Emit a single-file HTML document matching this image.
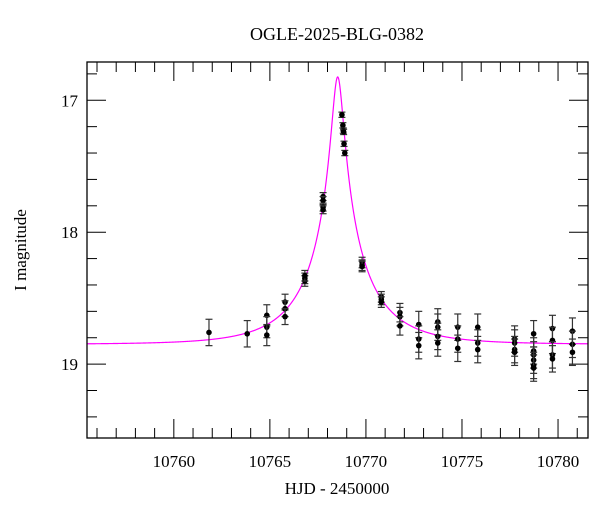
<!DOCTYPE html>
<html><head><meta charset="utf-8"><style>
body{margin:0;background:#fff;}
svg text{font-family:"Liberation Serif",serif;fill:#000;}
</style></head><body>
<svg id="chart" width="600" height="512">
<text x="337" y="40" font-size="18" text-anchor="middle">OGLE-2025-BLG-0382</text>
<text x="337" y="494" font-size="17" text-anchor="middle">HJD - 2450000</text>
<text transform="translate(26,250) rotate(-90)" font-size="17" text-anchor="middle">I magnitude</text>
<g id="ticks"></g>
<g id="plot"></g>
<rect x="87" y="62" width="501" height="376" fill="none" stroke="#000" stroke-width="1.3"/>
</svg>
<script>
const times=[10761.83,10763.82,10764.84,10764.84,10764.84,10765.79,10765.79,10765.79,10766.82,10766.82,10766.82,10767.77,10767.77,10767.77,10767.77,10768.75,10768.8,10768.82,10768.84,10768.86,10768.9,10769.8,10769.8,10769.8,10770.8,10770.8,10770.8,10771.77,10771.77,10771.77,10772.75,10772.75,10772.75,10773.74,10773.74,10773.74,10773.74,10774.78,10774.78,10774.78,10775.82,10775.82,10775.82,10777.74,10777.74,10777.74,10777.74,10778.73,10778.73,10778.73,10778.73,10778.73,10778.73,10779.71,10779.71,10779.71,10779.71,10780.75,10780.75,10780.75];
const mags=[18.76,18.77,18.63,18.72,18.78,18.53,18.58,18.64,18.35,18.37,18.33,17.73,17.76,17.81,17.83,17.11,17.19,17.23,17.24,17.33,17.40,18.23,18.25,18.26,18.49,18.51,18.53,18.61,18.64,18.71,18.70,18.81,18.86,18.68,18.72,18.79,18.84,18.72,18.81,18.88,18.72,18.84,18.89,18.81,18.84,18.89,18.91,18.77,18.90,18.93,18.97,19.01,19.03,18.73,18.82,18.93,18.96,18.75,18.85,18.91];
const errs=[0.1,0.1,0.08,0.08,0.08,0.06,0.06,0.06,0.04,0.04,0.04,0.03,0.03,0.03,0.03,0.02,0.02,0.02,0.02,0.02,0.02,0.04,0.04,0.04,0.04,0.04,0.04,0.07,0.07,0.07,0.1,0.1,0.1,0.1,0.1,0.1,0.1,0.1,0.1,0.1,0.1,0.1,0.1,0.1,0.1,0.1,0.1,0.1,0.1,0.1,0.1,0.1,0.1,0.1,0.1,0.1,0.1,0.1,0.1,0.1];
const xTicks=[10760,10765,10770,10775,10780];
const yTicks=[17,18,19];
const model={t0:10768.53,u0:0.084,tE:3.45,fs:0.5,base:18.85};
const X0=87,X1=588,Y0=62,Y1=438;
const xmin=10755.48,xmax=10781.56,ytop=16.71,ybot=19.56;
const sx=t=>X0+(t-xmin)/(xmax-xmin)*(X1-X0);
const sy=m=>Y0+(m-ytop)/(ybot-ytop)*(Y1-Y0);
const NS='http://www.w3.org/2000/svg';
function mk(tag,attrs,parent){const e=document.createElementNS(NS,tag);for(const k in attrs)e.setAttribute(k,attrs[k]);parent.appendChild(e);return e;}
const tk=document.getElementById('ticks'),pl=document.getElementById('plot');
for(let d=Math.ceil(xmin);d<=xmax;d++){
  const maj=d%5===0,L=maj?19:10,x=sx(d);
  const a=mk('line',{x1:x,x2:x,y1:Y1,y2:Y1-L,stroke:'#000','stroke-width':1},tk);
  
  
  const b=mk('line',{x1:x,x2:x,y1:Y0,y2:Y0+L,stroke:'#000','stroke-width':1},tk);
  
  
}
xTicks.forEach(v=>{const t=mk('text',{x:sx(v),y:467,'font-size':17,'text-anchor':'middle'},tk);t.textContent=v;
  
  });
for(let i=Math.ceil(ytop*5);i<=ybot*5;i++){
  const m=i/5,maj=i%5===0,L=maj?19:10,y=sy(m);
  const a=mk('line',{x1:X0,x2:X0+L,y1:y,y2:y,stroke:'#000','stroke-width':1},tk);
  
  
  const b=mk('line',{x1:X1,x2:X1-L,y1:y,y2:y,stroke:'#000','stroke-width':1},tk);
  
  
}
yTicks.forEach(v=>{const t=mk('text',{x:78,y:sy(v)+6,'font-size':17,'text-anchor':'end'},tk);t.textContent=v;
  
  });
let d='';
for(let i=0;i<=1500;i++){const t=xmin+(xmax-xmin)*i/1500;const tau=(t-model.t0)/model.tE;const u=Math.sqrt(model.u0*model.u0+tau*tau);
  const A=(u*u+2)/(u*Math.sqrt(u*u+4));const F=model.fs*A+(1-model.fs);const m=model.base-2.5*Math.log10(F);d+=(i?'L':'M')+sx(t).toFixed(2)+','+sy(m).toFixed(2);}
const cp=mk('path',{d:d,fill:'none',stroke:'#ff00ff','stroke-width':1.2},pl);


times.forEach((t,i)=>{
  const x=sx(t),y=sy(mags[i]),yt=sy(mags[i]-errs[i]),yb=sy(mags[i]+errs[i]);
  const g=mk('g',{},pl);
  
  
  mk('line',{x1:x,x2:x,y1:yt,y2:yb,stroke:'#333','stroke-width':1.2},g);
  mk('line',{x1:x-3.5,x2:x+3.5,y1:yt,y2:yt,stroke:'#333','stroke-width':1.2},g);
  mk('line',{x1:x-3.5,x2:x+3.5,y1:yb,y2:yb,stroke:'#333','stroke-width':1.2},g);
  mk('circle',{cx:x,cy:y,r:2.8,fill:'#000'},g);
});
</script>
</body></html>
